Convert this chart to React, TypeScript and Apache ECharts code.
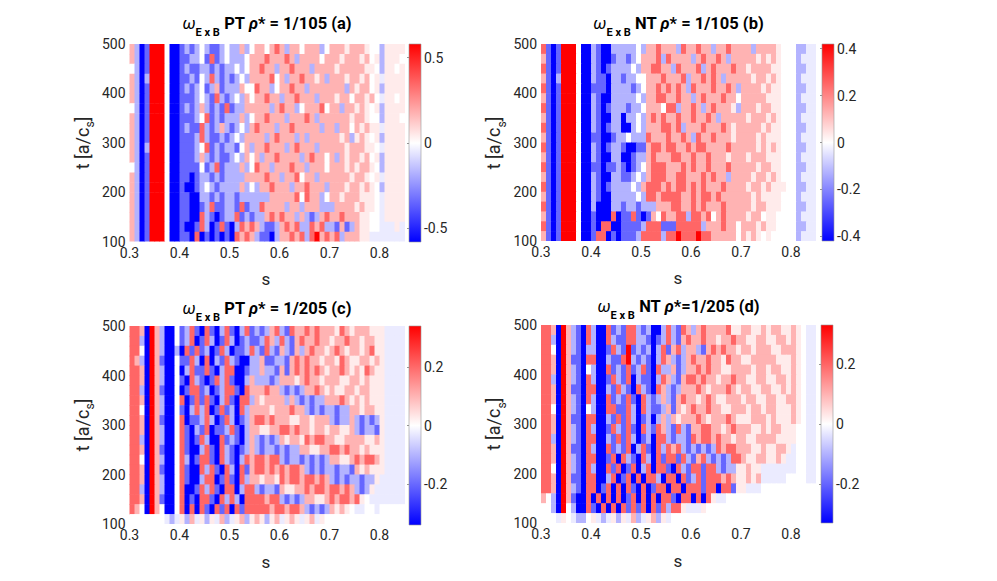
import React, { useEffect, useRef } from 'react';
import * as echarts from 'echarts';

// s-bin centres (columns) and t-bin centres (rows, top row first)
const S_COLS = [0.305, 0.315, 0.325, 0.335, 0.345, 0.355, 0.365, 0.375, 0.385, 0.395, 0.405, 0.415, 0.425, 0.435, 0.445, 0.455, 0.465, 0.475, 0.485, 0.495, 0.505, 0.515, 0.525, 0.535, 0.545, 0.555, 0.565, 0.575, 0.585, 0.595, 0.605, 0.615, 0.625, 0.635, 0.645, 0.655, 0.665, 0.675, 0.685, 0.695, 0.705, 0.715, 0.725, 0.735, 0.745, 0.755, 0.765, 0.775, 0.785, 0.795, 0.805, 0.815, 0.825, 0.835, 0.845];
const T_ROWS = [490, 470, 450, 430, 410, 390, 370, 350, 330, 310, 290, 270, 250, 230, 210, 190, 170, 150, 130, 110];
const S_HALF = 0.005;
const T_HALF = 10;

// estimated level of each cell, as a fraction of the panel colour limit
const LEVELS: Record<string, number> = { B: -1, b: -0.6, l: -0.3, k: -0.08, '.': 0, q: 0.08, p: 0.3, r: 0.6, R: 1 };

const ROWS_A = [
  'plBbR RR.BB blbl. lbbl. llpl. pp.pr plpp. pppl. pppqp ppq.. lqqqq',
  'plBbR RR.BB bbll. brbl. lll.p pprpp prplp ppp.p ppqpp pqp.q lqqq.',
  '.lBbR RR.BB blbbl lblbl l.l.p prppl pprpp plppp pqppp ppqq. lqq.q',
  'plBlR RR.BB bblb. lrlbl bl.lp pppr. plppr ppqpl pppqp pqp.q kqqqq',
  'plBbR RR.BB blbl. blpbl llp.. rppl. pprpp lpppp ppplp qpp.q lqqqq',
  'plBbR RR.BB bbbl. lbrlb l.lp. pprpp lpprp pplpp pqpp. ppqp. kqq.q',
  '.lBbR RR.BB blblp lblbr bllpp ppplp rppl. pppr. pplpp qpq.q lqqqq',
  'plBbR RR.BB bbbl. rblbl llpl. pprpp plppp rplpp ppppq ppq.. lqqq.',
  'plBbR RR.BB blbbr lblpl bl.lp rpppl pprpp ppplp plpp. pqpqq kqqqq',
  'plBbR RR.BB bbblr lbblb l.lpp pplpr ppplp lpppp ppqpl qpq.q lqqqq',
  'plBlR RR.BB bbbl. rblbl lb.pl pprpp plprp pplpp pppqp ppqq. kqqqq',
  'plBbR RR.BB bbblp lblbb l.lp. plppr ppppl prpp. plpqp pqp.q lqqqq',
  '.lBbR RR.BB bbbb. blrbl llpl. rpplp pprpp lppp. pppqp qppq. lqqqq',
  'plBbR RR.BB bbBbl lblbl lllpp pprpp lppr. pplpp ppppq ppq.q kqqqq',
  'plBbR RR.BB bBBbl .lbll llpl. lpprp pplpp rpppl pppqp pqpq. lqqqq',
  'plBbR RR.BB bbBBl lblbl lblll lllpp pppr. rppl. ppqpp pqqq. kqqqq',
  'plBbR RR.BB bbBBb lrbbl lbrbl lrppp plppl pppll lpppp qpqq. kqqqq',
  'plBbR RR.BB bbBBr lbBbl lrblb llprp rpplp lblpr pprpp pqq.. kqqqq',
  'plBbR RR.BB bBBbr lBbrb Blrpr plbbl prprl lrprl lbpbl pqq.. kkkqk',
  'plBbR RR.BB bbBrB bBbBb Brprp lbbBl pprpr lrRpr prlpp pqqkk kkkkk',
];

const ROWS_B = [
  'rbBbR RR.BB lbBBl llll. lpprp pplrp prppl pprpp pplpp ppq.. .llkk',
  'pbBbR RR.BB lbBBb llbl. ppprl rpppp lprpp rplpp pppqp qpq.. .lkkk',
  'rbBbR RR.BB lbBbl lll.l pprrp plrpp prlpr ppprp pqppp pqq.. .llkk',
  'pbBlR RR.BB lbbBl lbll. .pppr ppprl pprpr plppp ppqpp qpq.. .lkkk',
  'rbBbR RR.BB bbbBl lllbl .pprp rprpl rpppr pprpl ppppq pqq.. .llkk',
  'pbBbR RR.BB lbBBl llll. lpprr pprpp lprpp prpp. ppppp qqq.. .lkkk',
  'rbBbR RR.BB lbBbl llbll .ppp. rrlpp rplpr pppql pppqp pqq.. .llkk',
  'pbBbR RR.BB lbBBl lBll. lprpr pprpp rpprp lpppp pqppp qpq.. .lkkk',
  'rbBbR RR.BB lbBbl lBBl. lpppr rprlp pprpp prpqp ppppq pqq.. .llkk',
  'pbBbR RR.BB bbBBb ll.ll lrppp rpprp lrppr pppqp pppqp qqq.. .lkkk',
  'rbBbR RR.BB lbBbl lbBBb bprrp rrppr prrpp pprpp pppqp qpq.. .llkk',
  'pbBbR RR.BB lbBBl lBBbl lprpp prrpp rpprp ppqpp pqppp qqq.. .lkkk',
  'rbBbR RR.BB bbBbb lbBbl .prrr ppprp rpprp pprpp pppqp pqq.. .llkk',
  'pbBbR RR.BB lbBBl lbbl. lprrr pprrp pprpr pplpp ppqpp qpq.. .lkkk',
  'rbBbR RR.BB lbBbl lll.l prrrp rprrp rprpp prppp pqppq pqqq. .llkk',
  'pbBbR RR.BB lbBBl llll. lrrpr rrrpp rprrp rpppp ppqpq qqq.. .lkkk',
  'rbBbR RR.BB lBBBl lbllb lllpp prrpp rprpp prppp ppqpp qqq.. .llkk',
  'pbBbR RR.BB bBBBr Bbbrb Bbp.r pprrl rrpr. prppp pqpp. qq... .lkkk',
  'rbBbR RR.BB bBrrB Bbbbb lrrrb bbrrr rrlpp prpp. pppqp qq... .llkk',
  'pbBbR RR.BB brrBb Bbbbl rrrrl rrRrr rRrrp pppp. pqpq. q.... .lkkk',
];

const ROWS_C = [
  'rrpBR plBB. blrbB rbBlr bBlrb lblpr lbrpp rprpp pqrpq pppqq qkkkk',
  'rrlBR plBB. blrBb rlBbr lBblb blrpl rlbpr pprpp qpprp pqppq qkkkk',
  'rr.BR plBBl Brbrb lBbrl Bbblr lbrlb plbpl prppq prpqp pqprq qkkkk',
  'rplBR pbBB. bbrlB rBlbr lbBBl lpbbl lbprp rppqp pqrpq qppqp qkkkk',
  'rrpBR plBB. Blrbb rbBlr rBBbl lpllb pbprp rprpq pprpq pqrpq qkkkk',
  'rrpBR plBB. bBrlb Bbrlr bBBlp lllbl pppqp rppqp ppqqp pqpqq qkkkk',
  'rrlBR pbBB. Bbrrb lBblr rbBrp pprpp lblbl pprpq pqqpp qppqq qkkkk',
  'rrpBR plBB. rBbrb rbBlr bBrrl pqppp plplb lbllp pprpq pqpqq qkkkk',
  'rr.BR plBB. bBlrl rBbrb lBrlp pppqp pprpp lblbl lbllp pqppq qkkkk',
  'rrpBR pbBB. rBbbl rlBbr lBblp rrprp ppqqp pqppp lbllp lblbl qkkkk',
  'rrpBR plBB. rbBlb rBbbl rbBlp pqqpp rrprp pqppq ppqqp lbllb qkkkk',
  'rrlBR plBB. rbBbr lBBrb lbBlp lblbl pqppq rprrp pqqpp ppqqp qkkkk',
  'rrpBR pbBB. rbBBl rbBrl bBblp lbllb lbllp pqqpp rrprp pqpqq qkkkk',
  'rr.BR plBB. rlBbr rbBrl bBlrp rrprr lbllb lblbl ppqqp rprrp qkkkk',
  'rrpBR pbBB. rbBBr lrbBr lBrbp rrprp rprrp lblbl lbllb pqpqq qkkkk',
  'rrpBR plBB. rbBBl rrBbr bBrlp pqppq rprrp rrprp lblbl lbllq kkkkk',
  'rrlBR plBB. rBBbr lrbBr rBlrr lbllb pqqpp rprrp rrprp lblqk kkkkk',
  'rrpBR pbBB. rBbBr rbBrl rlBrr rrprr lblbl ppqqp rprrp rq.kk kkkkk',
  'rp.BR p.BB. rBrBr bBrbr Brbrr rrrpr rprrp lblbl pqpq. kk..k .....',
  '..... ..klk qlpkq lqkpl kqplq pqlqp kqpqk qpkq. ..... ..... .....',
];

const ROWS_D = [
  'rrpBR plbBr lBBrb lbrrl blBBl rlbrp lprpp pprqq ppqqp qppqq pq.kk',
  'rrlBR plbBr lBBrl bbrrl lbBbl rlbpr pprpp qpprp pqqpp qqppq pq.kk',
  'rr.BR plbBl lBBbr lbRbl blBlr bprlp plbpr prppq ppqpp pqqpp pq.kk',
  'rrpBR pbbBr rBBlb brRlb lbBlr plblp rpprp pqrpp qqppp ppqqq pq.kk',
  'rrpBR plbB. lBBrb lbrbl rbBrl lpblp prprp pqqpp ppqpp qppqq pq.kk',
  'rrlBR plbBr lBBbr lbrBl bbBlr plbpr rprpp qpprp pqqpp qqppq pq.kk',
  'rrpBR pbbBr rBBlb rlbBr lbBrp lblpp prpqp pprpq ppqqp pqqpq pq.kk',
  'rrpBR plbBr lBBrb lbrbB rlblp lbprp pqprp qqppp qppqq ppqqp pq.kk',
  'rr.BR plbB. lBBrr bbrlB rlbbl pbpqp rpprp pqqpp pqppq ppqqq pq.kk',
  'rrpBR pbbBr rBBlb rbrlB blBlp lpqpp prpqp pprpq qqppp qpqqq pq.kk',
  'rrpBR plbBr lBBbr lbrbB rlbrp lbrlb pprrp pqprp ppqqp qppqq q..kk',
  'rrlBR plbBr rBBlb rbrlB blBrr lbllb rprrp rppqp pqqpp ppqqq q..kk',
  'rrpBR pbbBr lBBrb lbrBl rbBrl rprlb lblbl rprrp ppqqp qqppq k..kk',
  'rrpBR plbBr rBBbr BrlbB rlBrb rrbrl bprlb lblrr pqqpp qqpqk k..kk',
  'rr.BR plbBr lBBrb rBbrB lrBrr bBrlb rrbrr lbllq qpqqk kkkkk k..kk',
  'rrpBR pbbBr rBBlr BbrBr BrrlB rrBrb lrbrr rprpq qpqpk kkkk. ...kk',
  'rrpBR plbBr rBbrB rBrbB rBbrr BrrBr rrbrr Brrbq qkkk. ..... .....',
  'p.lBR pbBBr BrBrB rBbrB rBrBr rbBrr BrBrq kk... ..... ..... .....',
  '..lBR .lBBr bBrBr Brbrb rBrbr lrrqk kkq.. ..... ..... ..... .....',
  '...kq .kll. qklkq lqkpl kqplq k.... ..... ..... ..... ..... .....',
];

const PANEL_ROWS = [ROWS_A, ROWS_B, ROWS_C, ROWS_D];
const CLIM = [0.58, 0.42, 0.34, 0.33];
const CBAR_TICKS = [[-0.5, 0, 0.5], [-0.4, -0.2, 0, 0.2, 0.4], [-0.2, 0, 0.2], [-0.2, 0, 0.2]];
const TITLE_CASE = ['PT', 'NT', 'PT', 'NT'];
const TITLE_TAIL = ['* = 1/105 (a)', '* = 1/105 (b)', '* = 1/205 (c)', '*=1/205 (d)'];
const S_MIN = 0.3;
const S_MAX = 0.85;
const T_MIN = 100;
const T_MAX = 500;

// layout
const PLOT = [
  { left: 129.5, top: 44, width: 275, height: 197.5 },
  { left: 541, top: 44, width: 275, height: 197 },
  { left: 129.5, top: 326, width: 275, height: 198 },
  { left: 541, top: 325, width: 275, height: 198 },
];
const CBAR = [
  { left: 409, top: 44, width: 12, height: 198 },
  { left: 822, top: 44, width: 12, height: 197 },
  { left: 409, top: 326, width: 12, height: 199 },
  { left: 821, top: 325, width: 12, height: 198 },
];
const TITLE_POS = [[267, 23.5], [678.5, 23.5], [267, 308.5], [678.5, 306.5]];
const YNAME_POS = [[82, 143], [493.5, 143], [82, 425], [493.5, 424]];
const XNAME_POS = [[266, 279], [678, 278], [266, 562], [678, 561]];

const TICK_COLOR = '#262626';
const FONT = 'Roboto';

function toCells(rows: string[], clim: number) {
  const out: number[][] = [];
  rows.forEach((row, j) => {
    const chars = row.replace(/ /g, '');
    for (let i = 0; i < chars.length && i < S_COLS.length; i++) {
      out.push([S_COLS[i], T_ROWS[j], (LEVELS[chars[i]] ?? 0) * clim]);
    }
  });
  return out;
}

function fmtS(v: number) {
  return Math.abs(v * 10 - Math.round(v * 10)) < 1e-6 ? v.toFixed(1) : '';
}

function buildOption() {
  const grid = [...PLOT, ...CBAR].map((g) => ({ ...g, containLabel: false }));
  const xAxis: any[] = [
    ...PLOT.map((_, k) => ({
      gridIndex: k, type: 'value', min: S_MIN, max: S_MAX, interval: 0.1,
      axisLine: { show: false }, axisTick: { show: false }, splitLine: { show: false },
      axisLabel: { fontSize: 14, color: TICK_COLOR, margin: 4, fontFamily: FONT, formatter: fmtS },
    })),
    ...CBAR.map((_, k) => ({ gridIndex: 4 + k, type: 'value', min: 0, max: 1, show: false })),
  ];
  const yAxis: any[] = [
    ...PLOT.map((_, k) => ({
      gridIndex: k, type: 'value', min: T_MIN, max: T_MAX, interval: 100,
      axisLine: { show: false }, axisTick: { show: false }, splitLine: { show: false },
      axisLabel: { fontSize: 14, color: TICK_COLOR, margin: 4, fontFamily: FONT },
    })),
    ...CBAR.map((_, k) => ({
      gridIndex: 4 + k, type: 'value', min: -CLIM[k], max: CLIM[k], position: 'right',
      axisLine: { show: false }, splitLine: { show: false },
      axisTick: { show: true, inside: true, length: 2, customValues: CBAR_TICKS[k], lineStyle: { color: '#7a7a7a', width: 0.8 } },
      axisLabel: { customValues: CBAR_TICKS[k], fontSize: 14, color: TICK_COLOR, margin: 3, fontFamily: FONT },
    })),
  ];
  const series: any[] = [
    ...PANEL_ROWS.map((rows, k) => ({
      type: 'custom', xAxisIndex: k, yAxisIndex: k, clip: true, silent: true,
      encode: { x: 0, y: 1 },
      data: toCells(rows, CLIM[k]),
      renderItem: (params: any, api: any) => {
        const s = api.value(0);
        const t = api.value(1);
        const p0 = api.coord([s - S_HALF, t + T_HALF]);
        const p1 = api.coord([s + S_HALF, t - T_HALF]);
        return {
          type: 'rect',
          shape: { x: p0[0], y: p0[1], width: p1[0] - p0[0] + 0.6, height: p1[1] - p0[1] + 0.6 },
          style: { fill: api.visual('color') },
        };
      },
    })),
    ...CBAR.map((_, k) => ({
      type: 'custom', xAxisIndex: 4 + k, yAxisIndex: 4 + k, silent: true,
      data: [[0.5, 0]],
      renderItem: (params: any, api: any) => {
        const tl = api.coord([0, CLIM[k]]);
        const br = api.coord([1, -CLIM[k]]);
        return {
          type: 'rect',
          shape: { x: tl[0], y: tl[1], width: br[0] - tl[0], height: br[1] - tl[1] },
          style: {
            fill: new echarts.graphic.LinearGradient(0, 0, 0, 1, [
              { offset: 0, color: '#ff0000' },
              { offset: 0.5, color: '#ffffff' },
              { offset: 1, color: '#0000ff' },
            ]),
            stroke: '#999999',
            lineWidth: 0.6,
          },
        };
      },
    })),
  ];
  const visualMap = PANEL_ROWS.map((_, k) => ({
    type: 'continuous', show: false, seriesIndex: k, dimension: 2,
    min: -CLIM[k], max: CLIM[k],
    inRange: { color: ['#0000ff', '#ffffff', '#ff0000'] },
  }));

  const titleRich = {
    w: { fontSize: 16.5, fontStyle: 'italic', fontFamily: FONT, lineHeight: 28, fill: '#000' },
    s: { fontSize: 11, fontWeight: 'bold', fontFamily: FONT, lineHeight: 12, verticalAlign: 'bottom', fill: '#000' },
    m: { fontSize: 16.5, fontWeight: 'bold', fontFamily: FONT, lineHeight: 28, fill: '#000' },
    r: { fontSize: 16.5, fontWeight: 'bold', fontStyle: 'italic', fontFamily: FONT, lineHeight: 28, fill: '#000' },
  };
  const nameRich = {
    m: { fontSize: 18, fontFamily: FONT, lineHeight: 28, fill: TICK_COLOR },
    s: { fontSize: 12, fontFamily: FONT, lineHeight: 13, verticalAlign: 'bottom', fill: TICK_COLOR },
  };
  const graphic: any[] = [];
  for (let k = 0; k < 4; k++) {
    graphic.push({
      type: 'text', x: TITLE_POS[k][0], y: TITLE_POS[k][1], silent: true,
      style: {
        text: `{w|ω}{s|E x B}{m| ${TITLE_CASE[k]} }{r|ρ}{m|${TITLE_TAIL[k]}}`,
        rich: titleRich, align: 'center', verticalAlign: 'middle',
      },
    });
    graphic.push({
      type: 'text', x: YNAME_POS[k][0], y: YNAME_POS[k][1], rotation: Math.PI / 2, silent: true,
      style: { text: '{m|t [a/c}{s|s}{m|]}', rich: nameRich, align: 'center', verticalAlign: 'middle' },
    });
    graphic.push({
      type: 'text', x: XNAME_POS[k][0], y: XNAME_POS[k][1], silent: true,
      style: { text: 's', fontSize: 17, fontFamily: FONT, fill: TICK_COLOR, align: 'center', verticalAlign: 'middle' },
    });
  }

  return {
    animation: false,
    backgroundColor: '#ffffff',
    textStyle: { fontFamily: FONT },
    grid, xAxis, yAxis, series, visualMap, graphic,
  };
}

export default function App() {
  const ref = useRef<HTMLDivElement>(null);
  useEffect(() => {
    if (!ref.current) return;
    const chart = echarts.init(ref.current, null, { renderer: 'svg' });
    chart.setOption(buildOption() as any);
    return () => chart.dispose();
  }, []);
  return <div ref={ref} style={{ position: 'absolute', left: 0, top: 0, width: 997, height: 581, background: '#fff' }} />;
}
